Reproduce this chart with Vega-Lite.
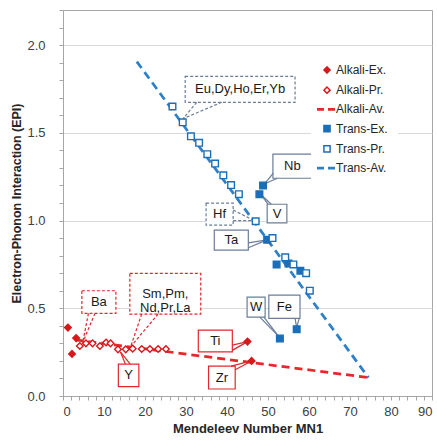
{
  "$schema": "https://vega.github.io/schema/vega-lite/v6.json",
  "width": 369,
  "height": 386,
  "autosize": {"type": "none"},
  "padding": {"left": 63, "top": 10, "right": 5, "bottom": 44},
  "background": "white",
  "config": {
    "font": "Liberation Sans",
    "view": {"stroke": "#a6a6a6", "strokeWidth": 1},
    "legend": {
      "orient": "none",
      "legendX": 248,
      "legendY": 44,
      "fillColor": "white",
      "padding": 10,
      "labelFont": "Liberation Sans",
      "labelFontSize": 12,
      "labelColor": "#262626",
      "labelOffset": 3,
      "rowPadding": 6.2,
      "symbolSize": 400,
      "symbolOpacity": 1
    }
  },
  "datasets": {
    "points": [
      {"series": "Alkali-Ex.", "mn": 1.2, "epi": 0.39},
      {"series": "Alkali-Ex.", "mn": 2.2, "epi": 0.24},
      {"series": "Alkali-Ex.", "mn": 3.2, "epi": 0.33},
      {"series": "Alkali-Ex.", "mn": 45, "epi": 0.31},
      {"series": "Alkali-Ex.", "mn": 46, "epi": 0.2},
      {"series": "Alkali-Pr.", "mn": 4.1, "epi": 0.285},
      {"series": "Alkali-Pr.", "mn": 5.6, "epi": 0.3},
      {"series": "Alkali-Pr.", "mn": 7.2, "epi": 0.3},
      {"series": "Alkali-Pr.", "mn": 9, "epi": 0.285},
      {"series": "Alkali-Pr.", "mn": 10.5, "epi": 0.305},
      {"series": "Alkali-Pr.", "mn": 11.6, "epi": 0.3},
      {"series": "Alkali-Pr.", "mn": 13.4, "epi": 0.266},
      {"series": "Alkali-Pr.", "mn": 15.3, "epi": 0.266},
      {"series": "Alkali-Pr.", "mn": 17, "epi": 0.27},
      {"series": "Alkali-Pr.", "mn": 19.2, "epi": 0.268},
      {"series": "Alkali-Pr.", "mn": 21.2, "epi": 0.268},
      {"series": "Alkali-Pr.", "mn": 23.2, "epi": 0.268},
      {"series": "Alkali-Pr.", "mn": 25.1, "epi": 0.268},
      {"series": "Trans-Ex.", "mn": 48.8, "epi": 1.2},
      {"series": "Trans-Ex.", "mn": 47.9, "epi": 1.15},
      {"series": "Trans-Ex.", "mn": 49.8, "epi": 0.89},
      {"series": "Trans-Ex.", "mn": 52.1, "epi": 0.75},
      {"series": "Trans-Ex.", "mn": 55, "epi": 0.755},
      {"series": "Trans-Ex.", "mn": 57.9, "epi": 0.714},
      {"series": "Trans-Ex.", "mn": 57, "epi": 0.38},
      {"series": "Trans-Ex.", "mn": 52.9, "epi": 0.328},
      {"series": "Trans-Pr.", "mn": 26.7, "epi": 1.65},
      {"series": "Trans-Pr.", "mn": 29.2, "epi": 1.56},
      {"series": "Trans-Pr.", "mn": 31.2, "epi": 1.48},
      {"series": "Trans-Pr.", "mn": 33.2, "epi": 1.443},
      {"series": "Trans-Pr.", "mn": 35.2, "epi": 1.378},
      {"series": "Trans-Pr.", "mn": 37.1, "epi": 1.325},
      {"series": "Trans-Pr.", "mn": 39.1, "epi": 1.258},
      {"series": "Trans-Pr.", "mn": 41, "epi": 1.202},
      {"series": "Trans-Pr.", "mn": 42.9, "epi": 1.15},
      {"series": "Trans-Pr.", "mn": 47, "epi": 0.996},
      {"series": "Trans-Pr.", "mn": 51.1, "epi": 0.9},
      {"series": "Trans-Pr.", "mn": 54.2, "epi": 0.79},
      {"series": "Trans-Pr.", "mn": 56.2, "epi": 0.75},
      {"series": "Trans-Pr.", "mn": 59.3, "epi": 0.7},
      {"series": "Trans-Pr.", "mn": 60.2, "epi": 0.6}
    ],
    "averages": [
      {"series": "Alkali-Av.", "mn": 3, "epi": 0.32},
      {"series": "Alkali-Av.", "mn": 74.5, "epi": 0.105},
      {"series": "Trans-Av.", "mn": 18, "epi": 1.906},
      {"series": "Trans-Av.", "mn": 74.5, "epi": 0.105}
    ],
    "boxes": [
      {"kind": "blue-dash", "mn": 29.8, "mn2": 56.6, "epi": 1.674, "epi2": 1.822},
      {"kind": "blue-dash", "mn": 34.9, "mn2": 41.5, "epi": 0.974, "epi2": 1.099},
      {"kind": "blue-solid", "mn": 51.2, "mn2": 60.7, "epi": 1.241, "epi2": 1.378},
      {"kind": "blue-solid", "mn": 49.8, "mn2": 54.6, "epi": 0.987, "epi2": 1.093},
      {"kind": "blue-solid", "mn": 36.9, "mn2": 45.2, "epi": 0.831, "epi2": 0.945},
      {"kind": "blue-solid", "mn": 44.9, "mn2": 49.3, "epi": 0.45, "epi2": 0.564},
      {"kind": "blue-solid", "mn": 50.2, "mn2": 57.8, "epi": 0.442, "epi2": 0.575},
      {"kind": "red-solid", "mn": 33.0, "mn2": 41.3, "epi": 0.251, "epi2": 0.376},
      {"kind": "red-solid", "mn": 35.5, "mn2": 42.0, "epi": 0.04, "epi2": 0.17},
      {"kind": "red-solid", "mn": 13.5, "mn2": 18.5, "epi": 0.053, "epi2": 0.182},
      {"kind": "red-dash", "mn": 4.6, "mn2": 12.9, "epi": 0.471, "epi2": 0.6},
      {"kind": "red-dash", "mn": 16.3, "mn2": 33.6, "epi": 0.467, "epi2": 0.699}
    ],
    "leaders": [
      {"kind": "blue-dash", "mn": 32.6, "epi": 1.674, "mn2": 29.3, "epi2": 1.581},
      {"kind": "blue-dash", "mn": 38.7, "epi": 1.674, "mn2": 29.3, "epi2": 1.581},
      {"kind": "blue-dash", "mn": 41.5, "epi": 1.06, "mn2": 46.6, "epi2": 1.0},
      {"kind": "blue-dash", "mn": 41.5, "epi": 1.0, "mn2": 46.6, "epi2": 1.0},
      {"kind": "blue-solid", "mn": 51.3, "epi": 1.27, "mn2": 49.2, "epi2": 1.21},
      {"kind": "blue-solid", "mn": 52.3, "epi": 1.241, "mn2": 49.2, "epi2": 1.21},
      {"kind": "blue-solid", "mn": 50.0, "epi": 1.093, "mn2": 48.2, "epi2": 1.15},
      {"kind": "blue-solid", "mn": 50.8, "epi": 1.093, "mn2": 48.2, "epi2": 1.15},
      {"kind": "blue-solid", "mn": 45.2, "epi": 0.873, "mn2": 49.8, "epi2": 0.89},
      {"kind": "blue-solid", "mn": 45.2, "epi": 0.845, "mn2": 49.8, "epi2": 0.89},
      {"kind": "blue-solid", "mn": 48.0, "epi": 0.45, "mn2": 52.6, "epi2": 0.34},
      {"kind": "blue-solid", "mn": 49.0, "epi": 0.45, "mn2": 52.6, "epi2": 0.34},
      {"kind": "blue-solid", "mn": 56.6, "epi": 0.442, "mn2": 57.0, "epi2": 0.39},
      {"kind": "blue-solid", "mn": 57.6, "epi": 0.442, "mn2": 57.0, "epi2": 0.39},
      {"kind": "red-solid", "mn": 41.3, "epi": 0.29, "mn2": 45, "epi2": 0.31},
      {"kind": "red-solid", "mn": 41.3, "epi": 0.26, "mn2": 45, "epi2": 0.31},
      {"kind": "red-solid", "mn": 41.0, "epi": 0.17, "mn2": 46, "epi2": 0.2},
      {"kind": "red-solid", "mn": 42.0, "epi": 0.15, "mn2": 46, "epi2": 0.2},
      {"kind": "red-solid", "mn": 15.2, "epi": 0.182, "mn2": 14, "epi2": 0.252},
      {"kind": "red-solid", "mn": 16.4, "epi": 0.182, "mn2": 14, "epi2": 0.252},
      {"kind": "red-dash", "mn": 6.2, "epi": 0.471, "mn2": 4.8, "epi2": 0.304},
      {"kind": "red-dash", "mn": 7.8, "epi": 0.471, "mn2": 4.8, "epi2": 0.304},
      {"kind": "red-dash", "mn": 19.2, "epi": 0.467, "mn2": 16.5, "epi2": 0.281},
      {"kind": "red-dash", "mn": 23.2, "epi": 0.467, "mn2": 16.5, "epi2": 0.281}
    ],
    "labels": [
      {"text": "Eu,Dy,Ho,Er,Yb", "mn": 43.2, "epi": 1.748},
      {"text": "Hf", "mn": 38.2, "epi": 1.036},
      {"text": "Nb", "mn": 55.95, "epi": 1.31},
      {"text": "V", "mn": 52.2, "epi": 1.04},
      {"text": "Ta", "mn": 41.05, "epi": 0.888},
      {"text": "W", "mn": 47.1, "epi": 0.507},
      {"text": "Fe", "mn": 54.0, "epi": 0.508},
      {"text": "Ti", "mn": 37.15, "epi": 0.313},
      {"text": "Zr", "mn": 38.75, "epi": 0.105},
      {"text": "Y", "mn": 16.0, "epi": 0.117},
      {"text": "Ba", "mn": 8.75, "epi": 0.535},
      {"text": "Sm,Pm,\nNd,Pr,La", "mn": 24.95, "epi": 0.583}
    ]
  },
  "encoding": {
    "x": {
      "field": "mn",
      "type": "quantitative",
      "title": "Mendeleev Number MN1",
      "scale": {"domain": [0, 90], "nice": false, "zero": false},
      "axis": {
        "values": [0, 2, 4, 6, 8, 10, 12, 14, 16, 18, 20, 22, 24, 26, 28, 30, 32, 34, 36, 38, 40, 42, 44, 46, 48, 50, 52, 54, 56, 58, 60, 62, 64, 66, 68, 70, 72, 74, 76, 78, 80, 82, 84, 86, 88, 90],
        "labelExpr": "datum.value % 10 === 0 ? datum.label : ''",
        "format": "d",
        "labelOverlap": false,
        "grid": false,
        "tickSize": 4,
        "tickColor": "#a6a6a6",
        "domainColor": "#a6a6a6",
        "labelFont": "Liberation Sans",
        "labelFontSize": 13,
        "labelColor": "#404040",
        "labelPadding": 5,
        "titleFont": "Liberation Sans",
        "titleFontSize": 13,
        "titleFontWeight": "bold",
        "titleColor": "#262626",
        "titlePadding": 4
      }
    },
    "y": {
      "field": "epi",
      "type": "quantitative",
      "title": "Electron-Phonon Interaction (EPI)",
      "scale": {"domain": [0, 2.2], "nice": false},
      "axis": {
        "values": [0, 0.1, 0.2, 0.3, 0.4, 0.5, 0.6, 0.7, 0.8, 0.9, 1.0, 1.1, 1.2, 1.3, 1.4, 1.5, 1.6, 1.7, 1.8, 1.9, 2.0, 2.1, 2.2],
        "format": ".1f",
        "labelExpr": "abs(datum.value * 2 - round(datum.value * 2)) < 0.001 ? datum.label : ''",
        "labelOverlap": false,
        "grid": true,
        "gridColor": "#d9d9d9",
        "gridOpacity": {"condition": {"test": "abs(datum.value * 2 - round(datum.value * 2)) < 0.001 && datum.value > 0", "value": 1}, "value": 0},
        "tickSize": 4,
        "tickColor": "#a6a6a6",
        "domainColor": "#a6a6a6",
        "labelFont": "Liberation Sans",
        "labelFontSize": 13,
        "labelColor": "#404040",
        "labelPadding": 14,
        "titleFont": "Liberation Sans",
        "titleFontSize": 12.5,
        "titleFontWeight": "bold",
        "titleColor": "#262626",
        "titlePadding": 3
      }
    }
  },
  "layer": [
    {
      "data": {"name": "averages"},
      "mark": {"type": "line", "strokeWidth": 2.75, "strokeDash": [8, 5]},
      "encoding": {
        "detail": {"field": "series"},
        "stroke": {
          "field": "series", "type": "nominal", "title": null,
          "scale": {"domain": ["Alkali-Ex.", "Alkali-Pr.", "Alkali-Av.", "Trans-Ex.", "Trans-Pr.", "Trans-Av."], "range": ["#d7191c", "#d7191c", "#e8262b", "#1a6fb8", "#1a6fb8", "#2f80c6"]},
          "legend": {"encode": {"symbols": {"update": {
            "strokeDash": {"signal": "indexof(['Alkali-Av.', 'Trans-Av.'], datum.value) >= 0 ? [7, 4] : [1, 0]"},
            "strokeWidth": {"signal": "indexof(['Alkali-Av.', 'Trans-Av.'], datum.value) >= 0 ? 2.75 : 1.5"},
            "size": {"signal": "indexof(['Alkali-Av.', 'Trans-Av.'], datum.value) >= 0 ? 400 : 38"}
          }}}}
        }
      }
    },
    {
      "data": {"name": "boxes"},
      "transform": [{"filter": "datum.kind === 'blue-solid'"}],
      "mark": {"type": "rect", "fill": "white", "stroke": "#6a7d99", "strokeWidth": 1.2},
      "encoding": {"x2": {"field": "mn2"}, "y2": {"field": "epi2"}}
    },
    {
      "data": {"name": "boxes"},
      "transform": [{"filter": "datum.kind === 'blue-dash'"}],
      "mark": {"type": "rect", "fill": "white", "stroke": "#6a7d99", "strokeWidth": 1.2, "strokeDash": [3, 2]},
      "encoding": {"x2": {"field": "mn2"}, "y2": {"field": "epi2"}}
    },
    {
      "data": {"name": "boxes"},
      "transform": [{"filter": "datum.kind === 'red-solid'"}],
      "mark": {"type": "rect", "fill": "white", "stroke": "#e0282e", "strokeWidth": 1.2},
      "encoding": {"x2": {"field": "mn2"}, "y2": {"field": "epi2"}}
    },
    {
      "data": {"name": "boxes"},
      "transform": [{"filter": "datum.kind === 'red-dash'"}],
      "mark": {"type": "rect", "fill": "white", "stroke": "#e0282e", "strokeWidth": 1.2, "strokeDash": [3, 2]},
      "encoding": {"x2": {"field": "mn2"}, "y2": {"field": "epi2"}}
    },
    {
      "data": {"name": "leaders"},
      "transform": [{"filter": "datum.kind === 'blue-solid'"}],
      "mark": {"type": "rule", "stroke": "#6a7d99", "strokeWidth": 1.2},
      "encoding": {"x2": {"field": "mn2"}, "y2": {"field": "epi2"}}
    },
    {
      "data": {"name": "leaders"},
      "transform": [{"filter": "datum.kind === 'blue-dash'"}],
      "mark": {"type": "rule", "stroke": "#6a7d99", "strokeWidth": 1.2, "strokeDash": [3, 2]},
      "encoding": {"x2": {"field": "mn2"}, "y2": {"field": "epi2"}}
    },
    {
      "data": {"name": "leaders"},
      "transform": [{"filter": "datum.kind === 'red-solid'"}],
      "mark": {"type": "rule", "stroke": "#e0282e", "strokeWidth": 1.2},
      "encoding": {"x2": {"field": "mn2"}, "y2": {"field": "epi2"}}
    },
    {
      "data": {"name": "leaders"},
      "transform": [{"filter": "datum.kind === 'red-dash'"}],
      "mark": {"type": "rule", "stroke": "#e0282e", "strokeWidth": 1.2, "strokeDash": [3, 2]},
      "encoding": {"x2": {"field": "mn2"}, "y2": {"field": "epi2"}}
    },
    {
      "data": {"name": "labels"},
      "mark": {"type": "text", "font": "Liberation Sans", "fontSize": 13, "color": "#1a1a1a", "align": "center", "baseline": "middle", "lineBreak": "\n", "lineHeight": 14},
      "encoding": {"text": {"field": "text"}}
    },
    {
      "data": {"name": "points"},
      "mark": {"type": "point", "filled": true, "opacity": 1, "size": 44, "strokeWidth": 1.4},
      "encoding": {
        "shape": {
          "field": "series", "type": "nominal", "title": null,
          "scale": {"domain": ["Alkali-Ex.", "Alkali-Pr.", "Alkali-Av.", "Trans-Ex.", "Trans-Pr.", "Trans-Av."], "range": ["diamond", "diamond", "stroke", "square", "square", "stroke"]},
          "legend": {"encode": {"symbols": {"update": {
            "strokeDash": {"signal": "indexof(['Alkali-Av.', 'Trans-Av.'], datum.value) >= 0 ? [7, 4] : [1, 0]"},
            "strokeWidth": {"signal": "indexof(['Alkali-Av.', 'Trans-Av.'], datum.value) >= 0 ? 2.75 : 1.5"},
            "size": {"signal": "indexof(['Alkali-Av.', 'Trans-Av.'], datum.value) >= 0 ? 400 : 38"}
          }}}}
        },
        "fill": {
          "field": "series", "type": "nominal", "title": null,
          "scale": {"domain": ["Alkali-Ex.", "Alkali-Pr.", "Alkali-Av.", "Trans-Ex.", "Trans-Pr.", "Trans-Av."], "range": ["#d7191c", "#ffffff", "#e8262b", "#1a6fb8", "#ffffff", "#2f80c6"]},
          "legend": {"encode": {"symbols": {"update": {
            "strokeDash": {"signal": "indexof(['Alkali-Av.', 'Trans-Av.'], datum.value) >= 0 ? [7, 4] : [1, 0]"},
            "strokeWidth": {"signal": "indexof(['Alkali-Av.', 'Trans-Av.'], datum.value) >= 0 ? 2.75 : 1.5"},
            "size": {"signal": "indexof(['Alkali-Av.', 'Trans-Av.'], datum.value) >= 0 ? 400 : 38"}
          }}}}
        },
        "stroke": {
          "field": "series", "type": "nominal", "title": null,
          "scale": {"domain": ["Alkali-Ex.", "Alkali-Pr.", "Alkali-Av.", "Trans-Ex.", "Trans-Pr.", "Trans-Av."], "range": ["#d7191c", "#d7191c", "#e8262b", "#1a6fb8", "#1a6fb8", "#2f80c6"]},
          "legend": {"encode": {"symbols": {"update": {
            "strokeDash": {"signal": "indexof(['Alkali-Av.', 'Trans-Av.'], datum.value) >= 0 ? [7, 4] : [1, 0]"},
            "strokeWidth": {"signal": "indexof(['Alkali-Av.', 'Trans-Av.'], datum.value) >= 0 ? 2.75 : 1.5"},
            "size": {"signal": "indexof(['Alkali-Av.', 'Trans-Av.'], datum.value) >= 0 ? 400 : 38"}
          }}}}
        }
      }
    }
  ]
}
